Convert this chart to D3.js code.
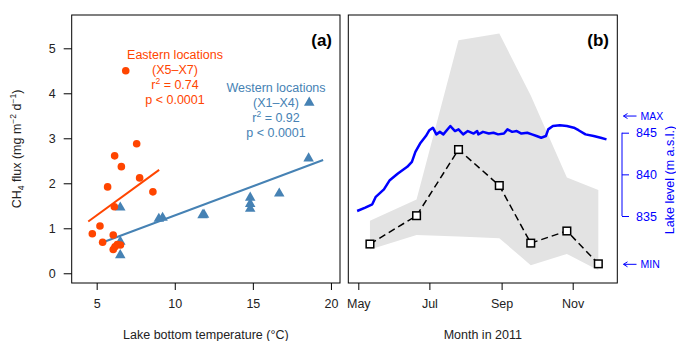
<!DOCTYPE html>
<html>
<head>
<meta charset="utf-8">
<script src="https://cdn.jsdelivr.net/npm/d3@7"></script>
<style>
  body { margin: 0; background: #fff; }
  svg text { font-family: "Liberation Sans", Arial, sans-serif; }
</style>
</head>
<body>
<div id="chart"></div>
<script>
// panel (a): CH4 flux vs lake bottom temperature
const eastTemp = [6.86, 7.56, 6.15, 6.58, 7.75, 5.70, 8.60, 6.13, 5.21, 4.72, 6.06, 5.38, 6.32, 6.52, 6.06, 6.17];
const eastFlux = [4.50, 2.88, 2.61, 2.37, 2.12, 1.92, 1.81, 1.48, 1.05, 0.88, 0.85, 0.69, 0.64, 0.63, 0.53, 0.59];
const westTemp = [18.61, 18.57, 16.69, 14.83, 14.83, 14.83, 11.87, 11.78, 9.22, 8.98, 6.51, 6.51, 6.51];
const westFlux = [3.81, 2.57, 1.79, 1.70, 1.56, 1.45, 1.32, 1.31, 1.25, 1.23, 1.48, 0.72, 0.42];
const eastFitX = [4.46, 9.0];
const eastFitCoef = [0.022, 0.253];   // intercept, slope
const westFitX = [5.49, 19.5];
const westFitCoef = [-0.013, 0.1298];
const tempTicks = [5, 10, 15, 20];
const fluxTicks = [0, 1, 2, 3, 4, 5];

// panel (b): seasonal flux and lake level
const sampleDates = ["2011-05-11", "2011-06-20", "2011-07-26", "2011-08-30", "2011-09-26", "2011-10-27", "2011-11-23"];
const fluxMean = [0.65, 1.28, 2.75, 1.95, 0.67, 0.94, 0.21];
const fluxMax = [1.17, 1.64, 5.18, 5.33, 3.95, 2.13, 1.85];
const fluxMin = [0.53, 0.85, 0.82, 0.78, 0.18, 0.43, 0.07];
const levelDates = ["2011-04-30", "2011-05-07", "2011-05-13", "2011-05-16", "2011-05-23", "2011-05-28",
  "2011-06-04", "2011-06-12", "2011-06-16", "2011-06-19", "2011-06-23", "2011-06-28", "2011-07-01",
  "2011-07-04", "2011-07-07", "2011-07-10", "2011-07-13", "2011-07-19", "2011-07-23", "2011-07-26",
  "2011-07-30", "2011-08-03", "2011-08-08", "2011-08-11", "2011-08-12", "2011-08-16", "2011-08-21",
  "2011-08-25", "2011-08-29", "2011-09-03", "2011-09-06", "2011-09-10", "2011-09-14", "2011-09-18",
  "2011-09-23", "2011-09-27", "2011-10-01", "2011-10-05", "2011-10-09", "2011-10-11", "2011-10-15",
  "2011-10-21", "2011-10-27", "2011-11-02", "2011-11-06", "2011-11-12", "2011-11-19", "2011-11-25", "2011-11-30"];
const levelValues = [835.6, 836.0, 836.4, 837.3, 838.2, 839.3,
  840.1, 840.9, 841.5, 842.7, 843.7, 844.6, 845.3,
  845.6, 844.8, 845.1, 844.8, 845.8, 845.2, 845.4,
  844.8, 845.2, 844.9, 845.2, 844.8, 845.1, 844.9,
  845.0, 844.8, 844.9, 845.4, 845.1, 845.2, 844.9,
  845.0, 844.8, 844.6, 844.4, 844.6, 845.4, 845.8,
  845.9, 845.8, 845.6, 845.3, 844.8, 844.6, 844.4, 844.2];
const monthTicks = ["2011-05-01", "2011-07-01", "2011-09-01", "2011-11-01"];
const levelTicks = [835, 840, 845];
const levelRange = [847, 829.2];   // MAX, MIN markers

const W = 676, H = 341;
const FS = 12.5;
const ORANGE = "#ff4500", STEEL = "#4682b4", BLUE = "#0000ff";
const parse = d3.utcParse("%Y-%m-%d");

const svg = d3.select("#chart").append("svg")
  .attr("width", W).attr("height", H);

const plotTop = 15, plotBottom = 283;
const y = d3.scaleLinear().domain([-0.216, 5.74]).range([plotBottom, plotTop]);

// ---------- panel (a)
const ax = { left: 71.7, right: 340 };
const x = d3.scaleLinear().domain([3.4, 20.58]).range([ax.left, ax.right]);

const ga = svg.append("g");
ga.append("rect")
  .attr("x", ax.left).attr("y", plotTop)
  .attr("width", ax.right - ax.left).attr("height", plotBottom - plotTop)
  .attr("fill", "none").attr("stroke", "#000").attr("stroke-width", 1);

ga.append("g")
  .attr("transform", `translate(0,${plotBottom})`)
  .call(d3.axisBottom(x).tickValues(tempTicks).tickSize(7).tickPadding(9))
  .call(g => g.select(".domain").remove());

ga.append("g")
  .attr("transform", `translate(${ax.left},0)`)
  .call(d3.axisLeft(y).tickValues(fluxTicks).tickFormat(d3.format("d")).tickSize(8).tickPadding(8))
  .call(g => g.select(".domain").remove());

svg.selectAll(".tick text").attr("font-size", FS).attr("fill", "#222");
svg.selectAll(".tick line").attr("stroke", "#000");

// regression lines
const fitLine = (xs, coef) => xs.map(v => [x(v), y(coef[0] + coef[1] * v)]);
ga.append("path")
  .attr("d", d3.line()(fitLine(eastFitX, eastFitCoef)))
  .attr("stroke", ORANGE).attr("stroke-width", 2).attr("fill", "none");
ga.append("path")
  .attr("d", d3.line()(fitLine(westFitX, westFitCoef)))
  .attr("stroke", STEEL).attr("stroke-width", 2).attr("fill", "none");

// triangles (western)
const tri = d3.symbol().type(d3.symbolTriangle).size(48);
ga.selectAll("path.west")
  .data(westTemp.map((t, i) => [t, westFlux[i]]))
  .join("path")
  .attr("class", "west")
  .attr("d", tri)
  .attr("transform", d => `translate(${x(d[0])},${y(d[1]) + 0.8})`)
  .attr("fill", STEEL);

// circles (eastern)
ga.selectAll("circle.east")
  .data(eastTemp.map((t, i) => [t, eastFlux[i]]))
  .join("circle")
  .attr("class", "east")
  .attr("cx", d => x(d[0])).attr("cy", d => y(d[1]))
  .attr("r", 3.8)
  .attr("fill", ORANGE);

// annotations
function label(g, cx, cy, lines, color) {
  lines.forEach((ln, i) => {
    const t = g.append("text")
      .attr("x", cx).attr("y", cy + i * 15)
      .attr("text-anchor", "middle")
      .attr("font-size", FS)
      .attr("fill", color);
    if (Array.isArray(ln)) {
      t.append("tspan").text(ln[0]);
      t.append("tspan").attr("dy", -5).attr("font-size", 8.5).text(ln[1]);
      t.append("tspan").attr("dy", 5).text(ln[2]);
    } else {
      t.text(ln);
    }
  });
}
label(ga, 175, 59, ["Eastern locations", "(X5\u2013X7)", ["r", "2", " = 0.74"], "p < 0.0001"], ORANGE);
label(ga, 276, 91.5, ["Western locations", "(X1\u2013X4)", ["r", "2", " = 0.92"], "p < 0.0001"], STEEL);

ga.append("text")
  .attr("x", 332).attr("y", 46)
  .attr("text-anchor", "end")
  .attr("font-size", 17).attr("font-weight", "bold")
  .text("(a)");

ga.append("text")
  .attr("x", (ax.left + ax.right) / 2).attr("y", 339)
  .attr("text-anchor", "middle").attr("font-size", FS).attr("fill", "#222")
  .text("Lake bottom temperature (\u00b0C)");

const yt = ga.append("text")
  .attr("transform", `translate(21,${(plotTop + plotBottom) / 2}) rotate(-90)`)
  .attr("text-anchor", "middle").attr("font-size", FS).attr("fill", "#222");
yt.append("tspan").text("CH");
yt.append("tspan").attr("dy", 3).attr("font-size", 8.5).text("4");
yt.append("tspan").attr("dy", -3).text(" flux (mg m");
yt.append("tspan").attr("dy", -5).attr("font-size", 8.5).text("\u22122");
yt.append("tspan").attr("dy", 5).text(" d");
yt.append("tspan").attr("dy", -5).attr("font-size", 8.5).text("\u22121");
yt.append("tspan").attr("dy", 5).text(")");

// ---------- panel (b)
const bx = { left: 348.3, right: 617.3 };
const t = d3.scaleUtc()
  .domain([parse("2011-05-01"), parse("2011-11-01")])
  .range([358.3, 572.7]);
const lvl = d3.scaleLinear().domain([835, 845]).range([216, 132.7]);

const gb = svg.append("g");

// min-max band
const samples = sampleDates.map((d, i) => ({ date: parse(d), mean: fluxMean[i], lo: fluxMin[i], hi: fluxMax[i] }));
gb.append("path")
  .datum(samples)
  .attr("d", d3.area().x(d => t(d.date)).y0(d => y(d.lo)).y1(d => y(d.hi)))
  .attr("fill", "#e3e3e3");

// lake level
const level = levelDates.map((d, i) => [t(parse(d)), lvl(levelValues[i])]);
gb.append("path")
  .attr("d", d3.line()(level))
  .attr("stroke", BLUE).attr("stroke-width", 2.5).attr("fill", "none")
  .attr("stroke-linejoin", "round");

// mean flux
gb.append("path")
  .datum(samples)
  .attr("d", d3.line().x(d => t(d.date)).y(d => y(d.mean)))
  .attr("stroke", "#000").attr("stroke-width", 1.5).attr("fill", "none")
  .attr("stroke-dasharray", "7,4");
gb.selectAll("rect.pt")
  .data(samples)
  .join("rect")
  .attr("class", "pt")
  .attr("x", d => t(d.date) - 3.8).attr("y", d => y(d.mean) - 3.8)
  .attr("width", 7.6).attr("height", 7.6)
  .attr("fill", "#fff").attr("stroke", "#000").attr("stroke-width", 1.5);

gb.append("rect")
  .attr("x", bx.left).attr("y", plotTop)
  .attr("width", bx.right - bx.left).attr("height", plotBottom - plotTop)
  .attr("fill", "none").attr("stroke", "#000").attr("stroke-width", 1);

gb.append("g")
  .attr("transform", `translate(0,${plotBottom})`)
  .call(d3.axisBottom(t).tickValues(monthTicks.map(parse)).tickFormat(d3.utcFormat("%b")).tickSize(7).tickPadding(9))
  .call(g => g.select(".domain").remove())
  .call(g => g.selectAll("text").attr("font-size", FS).attr("fill", "#222"));

// right axis: lake level
const ra = gb.append("g")
  .attr("transform", `translate(622,0)`)
  .call(d3.axisRight(lvl).tickValues(levelTicks).tickSize(7).tickPadding(7).tickSizeOuter(0));
ra.select(".domain").attr("stroke", BLUE).attr("d", `M0,${lvl(835)}V${lvl(845)}`);
ra.selectAll(".tick line").attr("stroke", BLUE);
ra.selectAll("text").attr("font-size", FS).attr("fill", BLUE);

gb.append("text")
  .attr("transform", `translate(674,180) rotate(-90)`)
  .attr("text-anchor", "middle").attr("font-size", FS).attr("fill", BLUE)
  .text("Lake level (m a.s.l.)");

// MAX / MIN markers
levelRange.forEach((v, i) => {
  const yy = lvl(v);
  gb.append("path")
    .attr("d", `M636.5,${yy}H623.5M627.5,${yy - 2.5}L623.5,${yy}L627.5,${yy + 2.5}`)
    .attr("stroke", BLUE).attr("stroke-width", 1).attr("fill", "none");
  gb.append("text")
    .attr("x", 640.5).attr("y", yy + 3.8)
    .attr("font-size", 10.5).attr("fill", BLUE)
    .text(i === 0 ? "MAX" : "MIN");
});

gb.append("text")
  .attr("x", 609).attr("y", 46)
  .attr("text-anchor", "end")
  .attr("font-size", 17).attr("font-weight", "bold")
  .text("(b)");

gb.append("text")
  .attr("x", (bx.left + bx.right) / 2).attr("y", 339)
  .attr("text-anchor", "middle").attr("font-size", FS).attr("fill", "#222")
  .text("Month in 2011");
</script>
</body>
</html>
